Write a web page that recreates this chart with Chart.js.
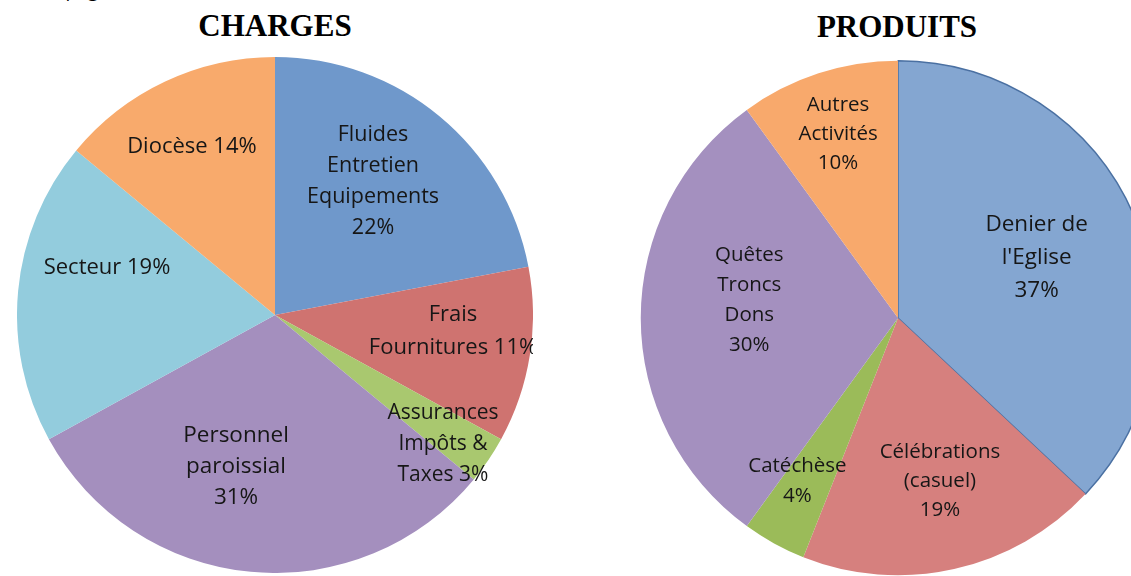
<!DOCTYPE html>
<html><head><meta charset="utf-8">
<script src="https://cdn.jsdelivr.net/npm/chart.js@4/dist/chart.umd.min.js"></script>
<style>
html,body{margin:0;padding:0;background:#fff;width:1131px;height:576px;overflow:hidden;position:relative;}
.title{position:absolute;font-family:"Liberation Serif","Times New Roman",serif;font-weight:bold;font-size:31px;color:#000;transform:translateX(-50%);white-space:nowrap;}
.cut{position:absolute;left:60px;top:-23px;font-family:"Open Sans",sans-serif;font-size:19px;color:#000;}
canvas{position:absolute;}
</style></head><body>
<div class="cut">(page)</div>
<div class="title" style="left:275px;top:8px;">CHARGES</div>
<div class="title" style="left:897px;top:9px;">PRODUITS</div>
<canvas id="c1" width="516" height="516" style="left:17px;top:57px;"></canvas>
<canvas id="c2" width="516" height="516" style="left:640px;top:60px;"></canvas>
<script>
// ---- data ----
const chargesLabels = ["Fluides Entretien Equipements","Frais Fournitures","Assurances Impôts & Taxes","Personnel paroissial","Secteur","Diocèse"];
const chargesValues = [22, 11, 3, 31, 19, 14];
const chargesText = [["Fluides","Entretien","Equipements","22%"],["Frais","Fournitures 11%"],["Assurances","Impôts &","Taxes 3%"],["Personnel","paroissial","31%"],["Secteur 19%"],["Diocèse 14%"]];
const produitsLabels = ["Denier de l'Eglise","Célébrations (casuel)","Catéchèse","Quêtes Troncs Dons","Autres Activités"];
const produitsValues = [37, 19, 4, 30, 10];
const produitsText = [["Denier de","l'Eglise","37%"],["Célébrations","(casuel)","19%"],["Catéchèse","4%"],["Quêtes","Troncs","Dons","30%"],["Autres","Activités","10%"]];

// ---- styles ----
const chargesColors = ["#6F98CB","#CF7370","#A9C86F","#A48FBE","#93CCDD","#F8AA6C"];
const produitsColors = ["#84A6D1","#D6807E","#9BBB59","#A490BF","#F8A96C"];
// label placement as offset from pie center in units of radius, font size, line height
const chargesLabelPos = [[0.380,-0.519,21.5,31],[0.690,0.062,22,33],[0.651,0.500,21,31],[-0.151,0.589,22.5,31],[-0.651,-0.182,22,30],[-0.322,-0.651,22,30]];
const produitsLabelPos = [[0.539,-0.236,22.5,33],[0.163,0.636,20.5,29],[-0.391,0.636,20.5,30],[-0.578,-0.070,20.5,30],[-0.233,-0.713,20.5,29]];

const labelPlugin = {
  id:'sliceLabels',
  afterDatasetsDraw(chart){
    const ctx = chart.ctx;
    const meta = chart.getDatasetMeta(0);
    const cfg = chart.options.plugins.sliceLabels;
    meta.data.forEach((arc,i)=>{
      const R = arc.outerRadius;
      const [fx,fy,fs,lh] = cfg.pos[i];
      const x = arc.x + fx*R, y = arc.y + fy*R;
      const lines = cfg.text[i];
      ctx.save();
      ctx.font = fs + 'px "Open Sans", sans-serif';
      ctx.fillStyle = '#161616';
      ctx.textAlign = 'center';
      ctx.textBaseline = 'middle';
      const y0 = y - (lines.length-1)*lh/2;
      lines.forEach((t,k)=>ctx.fillText(t, x, y0 + k*lh));
      ctx.restore();
    });
  }
};

function makePie(id, labels, values, colors, borderW, borderC, text, pos){
  new Chart(document.getElementById(id), {
    type:'pie',
    data:{labels:labels, datasets:[{data:values, backgroundColor:colors, borderWidth:borderW, borderColor:borderC}]},
    options:{
      responsive:false, animation:false, devicePixelRatio:1,
      layout:{padding:0},
      plugins:{legend:{display:false}, tooltip:{enabled:false}, sliceLabels:{text:text, pos:pos}}
    },
    plugins:[labelPlugin]
  });
}
makePie('c1', chargesLabels, chargesValues, chargesColors, 0, '#fff', chargesText, chargesLabelPos);
makePie('c2', produitsLabels, produitsValues, produitsColors, [1.5,0,0,0,0], ['#4A70A2','#fff','#fff','#fff','#fff'], produitsText, produitsLabelPos);
</script>
</body></html>
